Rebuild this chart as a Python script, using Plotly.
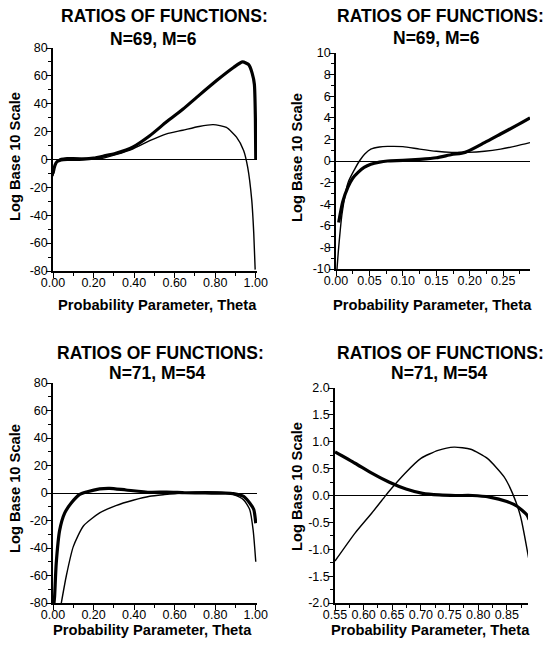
import plotly.graph_objects as go

# ---------------- DATA ----------------
# Panel A: N=69, M=6, theta 0..1
a_theta_thick = [0, 0.01, 0.02, 0.04, 0.07, 0.1, 0.15, 0.2, 0.25, 0.31, 0.395, 0.477, 0.56,
                 0.64, 0.72, 0.81, 0.89, 0.935, 0.965, 0.982, 0.993, 0.998, 1.0]
a_thick = [-10, -4, -1.5, -0.3, 0.1, 0.1, 0.3, 1.0, 2.5, 4.5, 9, 17, 27,
           36, 46, 57, 66, 70, 68, 62, 54, 30, 0]
a_theta_thin = [0, 0.01, 0.02, 0.04, 0.07, 0.1, 0.15, 0.2, 0.25, 0.31, 0.395, 0.477, 0.56,
                0.64, 0.72, 0.79, 0.855, 0.905, 0.94, 0.96, 0.98, 0.99, 0.997]
a_thin = [-12, -4, -1.2, 0.7, 1.3, 1.3, 0.9, 0.8, 1.1, 3.5, 7.7, 13.5, 18.4,
          21, 23.7, 25, 23, 16, 6.5, -5.5, -29, -53, -79]

# Panel B: N=69, M=6, theta 0..0.29
b_theta_thick = [0.004, 0.01, 0.018, 0.025, 0.033, 0.042, 0.052, 0.065, 0.077, 0.1, 0.125,
                 0.15, 0.173, 0.193, 0.222, 0.246, 0.27, 0.29]
b_thick = [-5.7, -3.8, -2.4, -1.6, -1.05, -0.6, -0.3, -0.1, 0, 0.05, 0.15,
           0.3, 0.6, 0.8, 1.7, 2.5, 3.3, 4.0]
b_theta_thin = [0.0015, 0.004, 0.009, 0.018, 0.028, 0.035, 0.043, 0.052, 0.065, 0.077, 0.1,
                0.125, 0.15, 0.173, 0.197, 0.222, 0.246, 0.27, 0.29]
b_thin = [-10, -8, -4.9, -2.0, -0.75, 0, 0.65, 1.1, 1.3, 1.35, 1.33,
          1.1, 0.9, 0.8, 0.8, 0.9, 1.1, 1.4, 1.7]

# Panel C: N=71, M=54, theta 0..1
c_theta_thick = [0.005, 0.008, 0.016, 0.033, 0.058, 0.09, 0.13, 0.165, 0.23, 0.28, 0.36, 0.48,
                 0.56, 0.65, 0.75, 0.85, 0.89, 0.94, 0.97, 0.99, 1.0]
c_thick = [-80, -75, -51, -27, -14.5, -7.3, -1.2, 0.7, 3.0, 3.4, 2.2, 0.5,
           0.7, 0.2, 0, -0.1, -0.5, -2.5, -7.3, -12, -22]
c_theta_thin = [0.041, 0.066, 0.1, 0.15, 0.23, 0.31, 0.395, 0.477, 0.55, 0.64, 0.75, 0.85,
                0.89, 0.94, 0.97, 0.987, 1.0]
c_thin = [-80, -60, -39, -24, -14.5, -9.2, -5.3, -2.4, -1.2, 0.0, 0.9, 0.2,
          -1.2, -5, -12, -27, -50]

# Panel D: N=71, M=54, theta 0.55..0.89
d_theta_thick = [0.55, 0.585, 0.615, 0.644, 0.674, 0.703, 0.732, 0.76, 0.79, 0.82, 0.85,
                 0.868, 0.885, 0.889]
d_thick = [0.81, 0.6, 0.41, 0.25, 0.12, 0.04, 0.01, 0, 0, -0.03, -0.11,
           -0.2, -0.36, -0.45]
d_theta_thin = [0.55, 0.585, 0.614, 0.637, 0.643, 0.672, 0.7, 0.73, 0.758, 0.787, 0.816,
                0.845, 0.86, 0.874, 0.889]
d_thin = [-1.22, -0.7, -0.33, -0.02, 0.06, 0.41, 0.69, 0.84, 0.9, 0.86, 0.69,
          0.35, 0.04, -0.39, -1.22]

# Tick labels
full_x_vals = [0, 0.2, 0.4, 0.6, 0.8, 1.0]
full_x_text = ["0.00", "0.20", "0.40", "0.60", "0.80", "1.00"]
full_y_vals = [80, 60, 40, 20, 0, -20, -40, -60, -80]
full_y_text = ["80", "60", "40", "20", "0", "-20", "-40", "-60", "-80"]
b_x_vals = [0, 0.05, 0.10, 0.15, 0.20, 0.25]
b_x_text = ["0.00", "0.05", "0.10", "0.15", "0.20", "0.25"]
b_y_vals = [10, 8, 6, 4, 2, 0, -2, -4, -6, -8, -10]
b_y_text = ["10", "8", "6", "4", "2", "0", "-2", "-4", "-6", "-8", "-10"]
d_x_vals = [0.55, 0.60, 0.65, 0.70, 0.75, 0.80, 0.85]
d_x_text = ["0.55", "0.60", "0.65", "0.70", "0.75", "0.80", "0.85"]
d_y_vals = [2.0, 1.5, 1.0, 0.5, 0.0, -0.5, -1.0, -1.5, -2.0]
d_y_text = ["2.0", "1.5", "1.0", "0.5", "0.0", "-0.5", "-1.0", "-1.5", "-2.0"]

title_line1 = "RATIOS OF FUNCTIONS:"
title_top = "N=69, M=6"
title_bottom = "N=71, M=54"
x_title = "Probability Parameter, Theta"
y_title = "Log Base 10 Scale"

# ---------------- FIGURE ----------------
W, H = 544, 648
FONT = "Liberation Sans"
fig = go.Figure()

THICK = dict(color="black", width=3.2, shape="spline", smoothing=0.6)
THIN = dict(color="black", width=1.4, shape="spline", smoothing=0.6)


def add(xs, ys, line, ax):
    fig.add_trace(go.Scatter(x=xs, y=ys, mode="lines", line=line,
                             xaxis="x" + ax, yaxis="y" + ax,
                             showlegend=False, hoverinfo="skip"))


add(a_theta_thin, a_thin, THIN, "")
add(a_theta_thick, a_thick, THICK, "")
add(b_theta_thin, b_thin, THIN, "2")
add(b_theta_thick, b_thick, THICK, "2")
add(c_theta_thin, c_thin, THIN, "3")
add(c_theta_thick, c_thick, THICK, "3")
add(d_theta_thin, d_thin, THIN, "4")
add(d_theta_thick, d_thick, THICK, "4")

TICKFONT = dict(family=FONT, size=12.5, color="black")


def px_x(a, b):
    return [a / W, b / W]


def px_y(top, bottom):
    return [1 - bottom / H, 1 - top / H]


def axis(domain, anchor, rng, vals, text, minor_dtick, minor_tick0, standoff, zeroline=False):
    return dict(domain=domain, anchor=anchor, range=rng, automargin=False,
                tickmode="array", tickvals=vals, ticktext=text, tickangle=0,
                ticklabelstandoff=standoff,
                showline=True, linecolor="black", linewidth=1.5,
                ticks="outside", ticklen=5, tickwidth=1.3, tickcolor="black",
                minor=dict(ticks="outside", ticklen=3, tickwidth=1.1, tickcolor="black",
                           tickmode="linear", tick0=minor_tick0, dtick=minor_dtick),
                showgrid=False, zeroline=zeroline, zerolinecolor="black", zerolinewidth=1.2,
                tickfont=TICKFONT, fixedrange=True)


fig.update_layout(
    template="none",
    width=W, height=H, margin=dict(l=0, r=0, t=0, b=0, pad=0, autoexpand=False),
    paper_bgcolor="white", plot_bgcolor="white", showlegend=False,
    xaxis=axis(px_x(53, 257), "y", [0, 1.006], full_x_vals, full_x_text, 0.1, 0, -6),
    yaxis=axis(px_y(48, 271), "x", [-80, 80], full_y_vals, full_y_text, 10, 0, -4, True),
    xaxis2=axis(px_x(336, 530), "y2", [0, 0.29], b_x_vals, b_x_text, 0.025, 0, -6),
    yaxis2=axis(px_y(53, 269), "x2", [-10, 10], b_y_vals, b_y_text, 1, 0, -4, True),
    xaxis3=axis(px_x(53, 257), "y3", [0, 1.006], full_x_vals, full_x_text, 0.1, 0, -6),
    yaxis3=axis(px_y(383, 603), "x3", [-80, 80], full_y_vals, full_y_text, 10, 0, -4, True),
    xaxis4=axis(px_x(335, 528), "y4", [0.55, 0.887], d_x_vals, d_x_text, 0.025, 0.55, -6),
    yaxis4=axis(px_y(388, 603), "x4", [-2, 2], d_y_vals, d_y_text, 0.25, 0, -4, True),
)

TITLEFONT = dict(family=FONT, size=17.5, color="black", weight="bold")
LABELFONT = dict(family=FONT, size=14.7, color="black", weight="bold")


def note(text, x, y, font, angle=0):
    fig.add_annotation(text=text, x=x / W, y=1 - y / H, xref="paper", yref="paper",
                       xanchor="center", yanchor="middle", showarrow=False,
                       font=font, textangle=angle)


note(title_line1, 164, 15.5, TITLEFONT)
note(title_top, 153, 39.5, TITLEFONT)
note(title_line1, 440, 15.5, TITLEFONT)
note(title_top, 436, 38.5, TITLEFONT)
note(title_line1, 160, 353, TITLEFONT)
note(title_bottom, 157, 373.5, TITLEFONT)
note(title_line1, 440, 352.7, TITLEFONT)
note(title_bottom, 439, 372.7, TITLEFONT)

note(x_title, 157, 305, LABELFONT)
note(x_title, 432, 305, LABELFONT)
note(x_title, 152, 630, LABELFONT)
note(x_title, 430, 630, LABELFONT)

note(y_title, 15, 157, LABELFONT, -90)
note(y_title, 297, 158, LABELFONT, -90)
note(y_title, 15, 489, LABELFONT, -90)
note(y_title, 297, 487, LABELFONT, -90)

fig.write_html("out.html", config={"displayModeBar": False},
               post_script="document.body.style.margin='0px';document.body.style.overflow='hidden';")
